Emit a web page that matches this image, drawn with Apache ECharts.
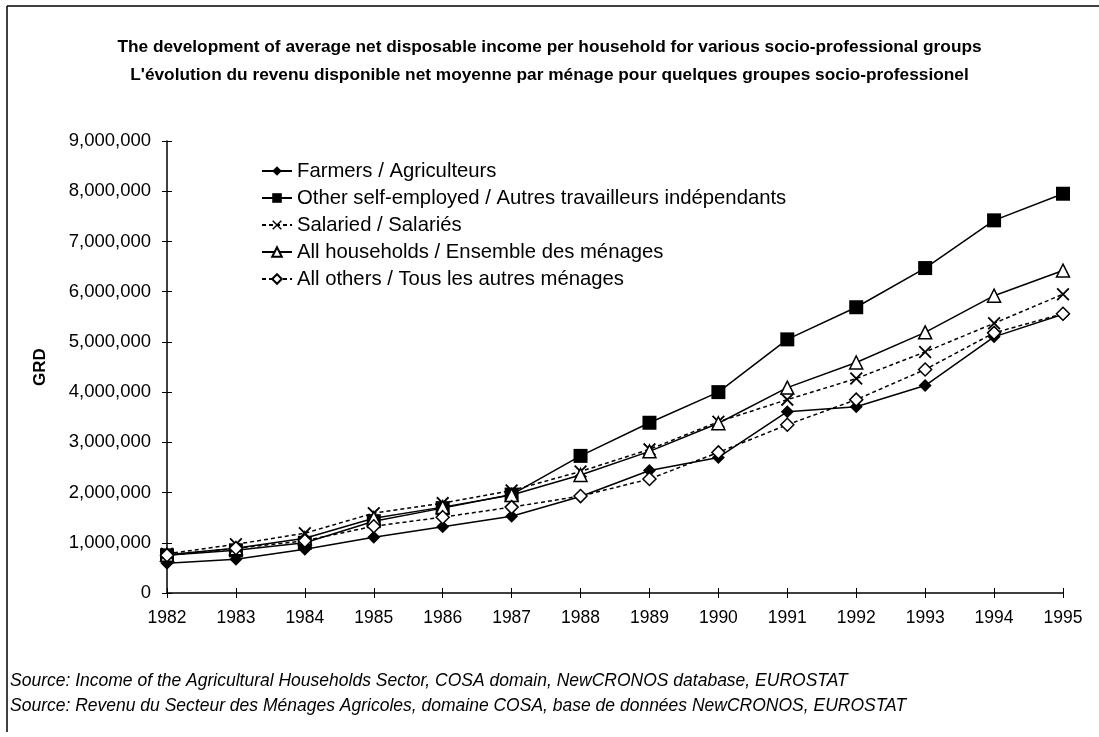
<!DOCTYPE html>
<html>
<head>
<meta charset="utf-8">
<script src="https://cdn.jsdelivr.net/npm/echarts@6/dist/echarts.min.js"></script>
<style>
  html, body { margin: 0; padding: 0; background: #fff; }
  #main { width: 1099px; height: 737px; }
</style>
</head>
<body>
<div id="main"></div>
<script>
// years and values (GRD)
var years = ['1982','1983','1984','1985','1986','1987','1988','1989','1990','1991','1992','1993','1994','1995'];
var farmers      = [590000, 670000, 870000, 1110000, 1320000, 1530000, 1920000, 2440000, 2700000, 3610000, 3710000, 4130000, 5100000, 5550000];
var selfEmployed = [750000, 850000, 1000000, 1430000, 1690000, 1960000, 2730000, 3390000, 4000000, 5050000, 5690000, 6470000, 7420000, 7950000];
var salaried     = [780000, 970000, 1190000, 1590000, 1790000, 2040000, 2420000, 2860000, 3410000, 3850000, 4270000, 4800000, 5370000, 5950000];
var allHouse     = [760000, 890000, 1090000, 1490000, 1710000, 1950000, 2350000, 2820000, 3380000, 4090000, 4590000, 5190000, 5920000, 6420000];
var allOthers    = [750000, 890000, 1040000, 1330000, 1510000, 1710000, 1930000, 2270000, 2800000, 3350000, 3850000, 4450000, 5180000, 5560000];

var seriesNames = [
  'Farmers / Agriculteurs',
  'Other self-employed / Autres travailleurs indépendants',
  'Salaried / Salariés',
  'All households / Ensemble des ménages',
  'All others / Tous les autres ménages'
];

var crossSymbol = 'path://M0,1L1,0L5,4L9,0L10,1L6,5L10,9L9,10L5,6L1,10L0,9L4,5Z';
var font = '"Liberation Sans", Arial, sans-serif';

function mkSeries(name, data, symbol, size, open, dashed) {
  return {
    name: name,
    type: 'line',
    data: data,
    symbol: symbol,
    symbolSize: size,
    showAllSymbol: true,
    lineStyle: { color: '#000', width: 1.5, type: dashed ? [4, 3] : 'solid' },
    itemStyle: open ? { color: '#fff', borderColor: '#000', borderWidth: 1.5 }
                    : { color: '#000', borderWidth: 0 },
    emphasis: { disabled: true },
    animation: false
  };
}

var myChart = echarts.init(document.getElementById('main'));

var option = {
  backgroundColor: '#fff',
  title: {
    text: 'The development of average net disposable income per household for various socio-professional groups\nL\'évolution du revenu disponible net moyenne par ménage pour quelques groupes socio-professionel',
    left: 'center',
    top: 28,
    textStyle: { fontFamily: font, fontSize: 17.3, fontWeight: 'bold', color: '#000', lineHeight: 28 }
  },
  legend: {
    orient: 'vertical',
    left: 256,
    top: 156,
    itemWidth: 30,
    itemHeight: 12,
    itemGap: 7,
    data: seriesNames,
    textStyle: { fontFamily: font, fontSize: 20.3, color: '#000' }
  },
  grid: { left: 167, right: 36, top: 141, bottom: 144 },
  xAxis: [{
    type: 'category',
    data: years,
    boundaryGap: false,
    axisLine: { lineStyle: { color: '#000', width: 1.5 } },
    axisTick: { show: true, length: 5, lineStyle: { color: '#000' } },
    axisLabel: { fontFamily: font, fontSize: 17.5, color: '#000', margin: 16 },
    splitLine: { show: false }
  }, {
    type: 'category',
    data: years,
    position: 'bottom',
    boundaryGap: false,
    axisLine: { show: false },
    axisTick: { show: true, inside: true, length: 5, lineStyle: { color: '#000' } },
    axisLabel: { show: false },
    splitLine: { show: false }
  }],
  yAxis: [{
    type: 'value',
    min: 0,
    max: 9000000,
    interval: 1000000,
    name: 'GRD',
    nameLocation: 'middle',
    nameGap: 118,
    nameTextStyle: { fontFamily: font, fontSize: 17, fontWeight: 'bold', color: '#000' },
    axisLine: { show: true, lineStyle: { color: '#000', width: 1.5 } },
    axisTick: { show: true, length: 5, lineStyle: { color: '#000' } },
    axisLabel: {
      fontFamily: font, fontSize: 18.5, color: '#000', margin: 16,
      formatter: function (v) { return v.toLocaleString('en-US'); }
    },
    splitLine: { show: false }
  }, {
    type: 'value',
    min: 0,
    max: 9000000,
    interval: 1000000,
    position: 'left',
    axisLine: { show: false },
    axisTick: { show: true, inside: true, length: 5, lineStyle: { color: '#000' } },
    axisLabel: { show: false },
    splitLine: { show: false }
  }],
  graphic: [
    { type: 'line', shape: { x1: 7, y1: 6, x2: 1099, y2: 6 }, style: { stroke: '#000', lineWidth: 1.5 } },
    { type: 'line', shape: { x1: 7, y1: 6, x2: 7, y2: 732 }, style: { stroke: '#000', lineWidth: 1.5 } },
    {
      type: 'text', left: 10, top: 669,
      style: {
        text: 'Source: Income of the Agricultural Households Sector, COSA domain, NewCRONOS database, EUROSTAT\nSource: Revenu du Secteur des Ménages Agricoles, domaine COSA, base de données NewCRONOS, EUROSTAT',
        font: 'italic 17.5px ' + font, fill: '#000', lineHeight: 25
      }
    }
  ],
  series: [
    mkSeries(seriesNames[0], farmers, 'diamond', 13, false, false),
    mkSeries(seriesNames[1], selfEmployed, 'rect', 14, false, false),
    mkSeries(seriesNames[2], salaried, crossSymbol, 13, false, true),
    mkSeries(seriesNames[3], allHouse, 'triangle', 13, true, false),
    mkSeries(seriesNames[4], allOthers, 'diamond', 13, true, true)
  ]
};

myChart.setOption(option);
</script>
</body>
</html>
